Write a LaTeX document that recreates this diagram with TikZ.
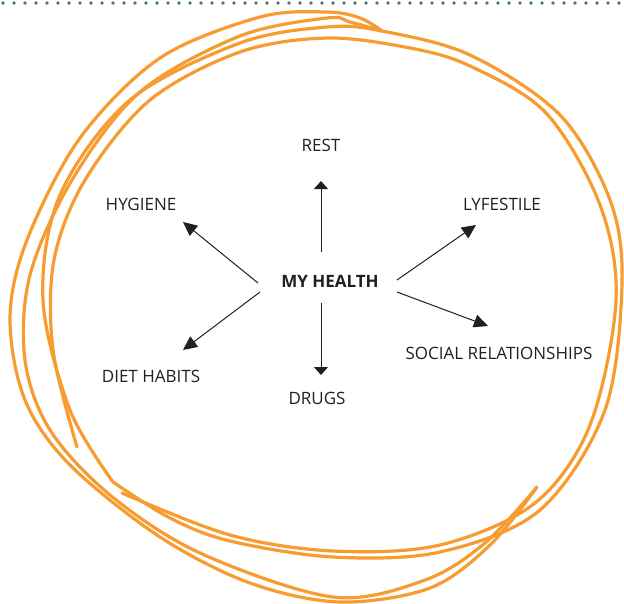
\documentclass[tikz,border=0pt]{standalone}
\usepackage{fontspec}
\setmainfont{Open Sans}
\usetikzlibrary{arrows.meta}
\definecolor{scribble}{RGB}{246,156,48}
\definecolor{dotgreen}{RGB}{72,118,104}
\definecolor{ink}{RGB}{35,31,32}
\tikzset{
  loopline/.style={draw=scribble, line width=3.2pt, line cap=round, line join=round},
  label/.style={font=\fontsize{17}{20}\selectfont, text=ink, inner sep=0pt},
  hub/.style={font=\fontsize{17}{20}\selectfont\bfseries, text=ink, inner sep=0pt},
  armv/.style={draw=ink, line width=1pt, -{Triangle[length=8pt,width=14pt]}},
  armd/.style={draw=ink, line width=1pt, -{Triangle[length=14pt,width=13pt]}}
}
\begin{document}
\begin{tikzpicture}[x=1pt,y=-1pt]
\useasboundingbox (0,0) rectangle (624,603);
% dotted rule
\foreach \i in {0,...,56} \fill[dotgreen] (3+11*\i,3) circle (1.9pt);
% scribbled loops
\draw[loopline] plot[smooth, tension=0.55] coordinates {(382,31) (360,18) (327,12) (260,17) (160,58) (80,138) (27,240) (10,318) (25,400) (70,465) (160,537) (250,583) (340,602) (430,588) (490,545) (537,487)};
\draw[loopline] plot[smooth, tension=0.55] coordinates {(382,31) (350,22) (327,18) (240,36) (140,92) (72,180) (30,275) (25,360) (50,430) (110,495) (200,553) (333,597) (425,580) (485,543) (537,487)};
\draw[loopline] plot[smooth, tension=0.55] coordinates {(113,482) (70,410) (43,300) (60,195) (130,100) (240,43) (327,27) (382,31) (470,55) (560,115) (610,200) (622,283) (605,410) (540,510) (440,552) (333,557) (230,541) (170,518) (113,482)};
\draw[loopline] plot[smooth, tension=0.55] coordinates {(122,493) (230,535) (333,551) (440,545) (535,503) (590,425) (616,300) (600,205) (546,113) (470,66) (410,48) (327,38) (240,52) (150,100) (85,180) (54,260) (53,350) (77,447)};
% labels
\node[hub]   (health) at (330,281) {MY HEALTH};
\node[label] (rest)   at (321,145) {REST};
\node[label] (hyg)    at (141,204) {HYGIENE};
\node[label] (life)   at (502,204) {LYFESTILE};
\node[label] (diet)   at (151,376) {DIET HABITS};
\node[label] (drugs)  at (317,398) {DRUGS};
\node[label] (social) at (499,353) {SOCIAL RELATIONSHIPS};
% arrow ends
\coordinate (sUp) at (321,252);   \coordinate (tUp) at (321,181);
\coordinate (sDn) at (321,303);   \coordinate (tDn) at (321,375);
\coordinate (sUL) at (258,283);   \coordinate (tUL) at (183,222);
\coordinate (sDL) at (260,292);   \coordinate (tDL) at (183,350);
\coordinate (sUR) at (397,280);   \coordinate (tUR) at (476,225);
\coordinate (sDR) at (397,292);   \coordinate (tDR) at (488,326);
\draw[armv] (sUp) -- (tUp);
\draw[armv] (sDn) -- (tDn);
\draw[armd] (sUL) -- (tUL);
\draw[armd] (sDL) -- (tDL);
\draw[armd] (sUR) -- (tUR);
\draw[armd] (sDR) -- (tDR);
\end{tikzpicture}
\end{document}
